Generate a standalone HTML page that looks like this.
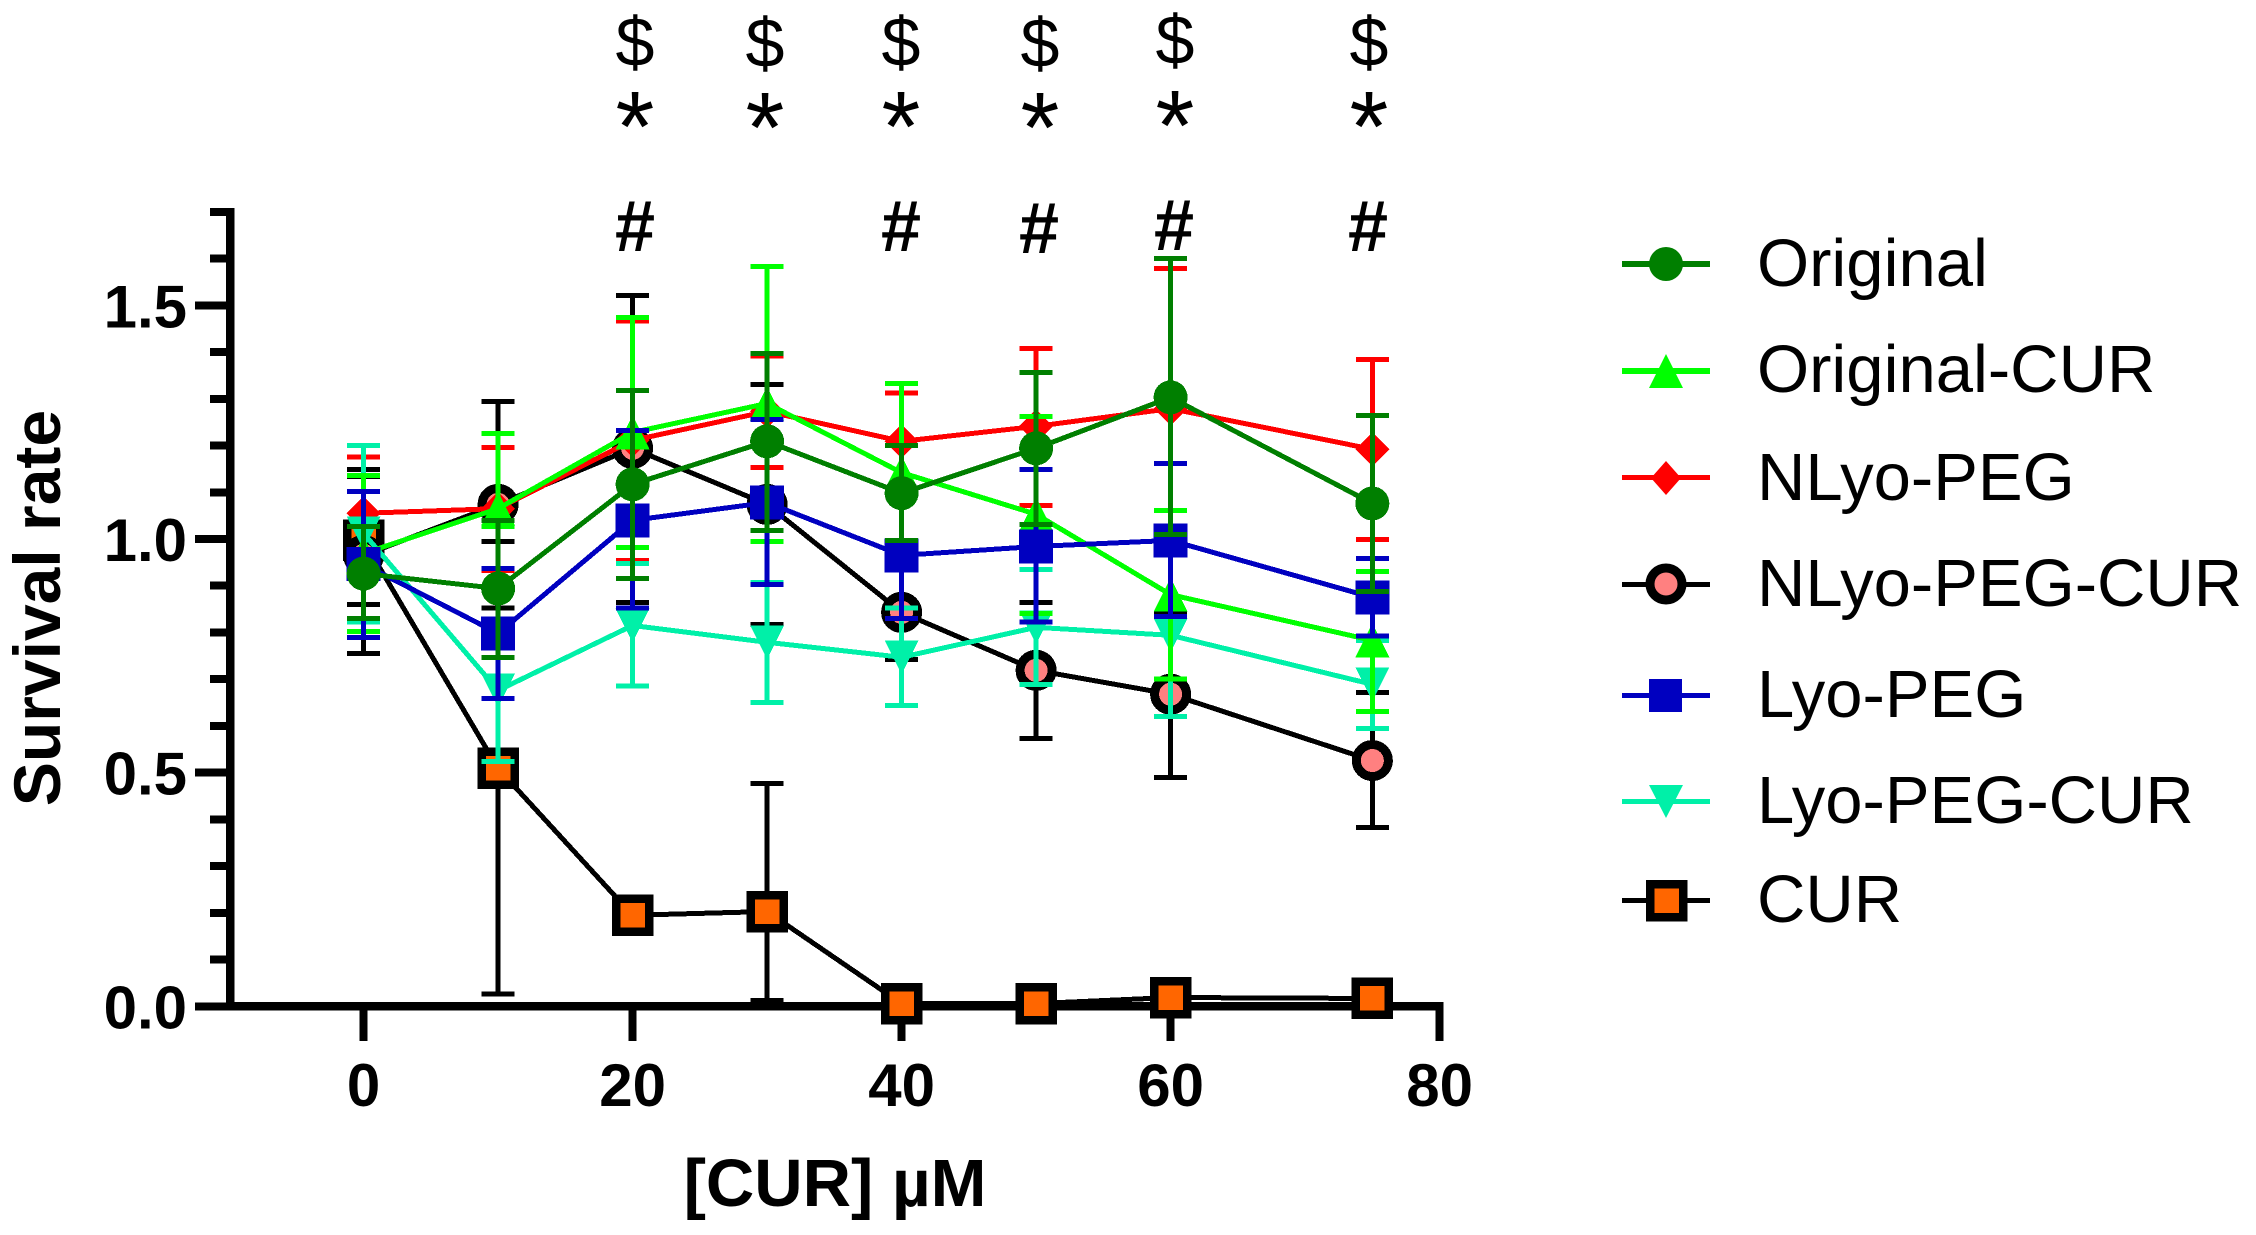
<!DOCTYPE html>
<html lang="en">
<head>
<meta charset="utf-8">
<title>Survival rate vs CUR concentration</title>
<style>
html,body{margin:0;padding:0;background:#fff;}
svg{display:block;}
text{font-family:"Liberation Sans",sans-serif;fill:#000;}
.tick{font-weight:700;font-size:60px;}
.title{font-weight:700;font-size:66px;}
.xtitle{font-weight:700;font-size:67px;}
.leg{font-size:67px;}
.dollar{font-size:70px;text-anchor:middle;}
.star{font-size:100px;text-anchor:middle;}
.hash{font-size:72px;font-weight:700;text-anchor:middle;}
</style>
</head>
<body>
<svg id="chart" xmlns="http://www.w3.org/2000/svg" width="2256" height="1235" viewBox="0 0 2256 1235">
  <g id="annotations">
    <text class="dollar" x="635" y="66">$</text>
    <text class="dollar" x="765" y="67">$</text>
    <text class="dollar" x="901" y="66">$</text>
    <text class="dollar" x="1040" y="67">$</text>
    <text class="dollar" x="1175" y="64">$</text>
    <text class="dollar" x="1369" y="66">$</text>
    <text class="star" x="635" y="161">*</text>
    <text class="star" x="765" y="162">*</text>
    <text class="star" x="901" y="161">*</text>
    <text class="star" x="1040" y="162">*</text>
    <text class="star" x="1175" y="160">*</text>
    <text class="star" x="1369" y="161">*</text>
    <text class="hash" x="635" y="251">#</text>
    <text class="hash" x="901" y="251">#</text>
    <text class="hash" x="1039" y="253">#</text>
    <text class="hash" x="1174" y="250">#</text>
    <text class="hash" x="1368" y="251">#</text>
  </g>
  <text class="title" transform="translate(60,608) rotate(-90)" text-anchor="middle">Survival rate</text>
  <text class="xtitle" x="835" y="1206" text-anchor="middle">[CUR] µM</text>
  <g id="axes" shape-rendering="crispEdges"></g>
  <g id="series" shape-rendering="crispEdges"></g>
  <g id="legend">
    <g>
      <rect x="1622" y="261" width="88" height="6" fill="#007f00" shape-rendering="crispEdges"/>
      <circle cx="1666" cy="264" r="17" fill="#007f00"/>
      <text class="leg" x="1757" y="286">Original</text>
    </g>
    <g>
      <rect x="1622" y="368" width="88" height="6" fill="#00ff00" shape-rendering="crispEdges"/>
      <polygon points="1666,354 1683,388 1649,388" fill="#00ff00"/>
      <text class="leg" x="1757" y="392">Original-CUR</text>
    </g>
    <g>
      <rect x="1622" y="475" width="88" height="5" fill="#ff0000" shape-rendering="crispEdges"/>
      <polygon points="1666,461 1681,478 1666,495 1651,478" fill="#ff0000"/>
      <text class="leg" x="1757" y="500">NLyo-PEG</text>
    </g>
    <g>
      <rect x="1622" y="582" width="88" height="5" fill="#000" shape-rendering="crispEdges"/>
      <circle cx="1666" cy="584" r="16" fill="#ff8080" stroke="#000" stroke-width="9"/>
      <text class="leg" x="1757" y="606">NLyo-PEG-CUR</text>
    </g>
    <g>
      <rect x="1622" y="693" width="88" height="5" fill="#0000c0" shape-rendering="crispEdges"/>
      <rect x="1649" y="679" width="33" height="33" fill="#0000c0" shape-rendering="crispEdges"/>
      <text class="leg" x="1757" y="717">Lyo-PEG</text>
    </g>
    <g>
      <rect x="1622" y="799" width="88" height="5" fill="#00f0a8" shape-rendering="crispEdges"/>
      <polygon points="1649,785 1683,785 1666,818" fill="#00f0a8"/>
      <text class="leg" x="1757" y="823">Lyo-PEG-CUR</text>
    </g>
    <g>
      <rect x="1622" y="898" width="88" height="5" fill="#000" shape-rendering="crispEdges"/>
      <rect x="1650" y="884" width="33" height="33" fill="#ff6600" stroke="#000" stroke-width="8.5" shape-rendering="crispEdges"/>
      <text class="leg" x="1757" y="922">CUR</text>
    </g>
  </g>
</svg>
<script>
// Chart data
const concentrations = [0, 10, 20, 30, 40, 50, 60, 75];
const xTickValues = [0, 20, 40, 60, 80];
const yMajorTicks = [0, 0.5, 1.0, 1.5];
const yMinorTicks = [0.1, 0.2, 0.3, 0.4, 0.6, 0.7, 0.8, 0.9, 1.1, 1.2, 1.3, 1.4, 1.6, 1.7];

const originalMean = [0.926, 0.894, 1.117, 1.209, 1.098, 1.194, 1.303, 1.076];
const originalUpper = [1.027, 1.040, 1.318, 1.397, 1.200, 1.356, 1.600, 1.264];
const originalLower = [0.830, 0.747, 0.916, 1.018, 0.997, 1.031, 1.010, 0.888];

const originalCurMean = [0.969, 1.065, 1.228, 1.290, 1.142, 1.053, 0.881, 0.783];
const originalCurUpper = [1.136, 1.226, 1.474, 1.583, 1.333, 1.262, 1.061, 0.931];
const originalCurLower = [0.802, 1.027, 0.982, 0.995, 0.952, 0.841, 0.700, 0.631];

const nlyoPegMean = [1.055, 1.065, 1.211, 1.273, 1.209, 1.241, 1.279, 1.192];
const nlyoPegUpper = [1.175, 1.196, 1.466, 1.391, 1.312, 1.408, 1.579, 1.384];
const nlyoPegLower = [0.935, 0.933, 0.954, 1.153, 1.106, 1.072, 0.980, 0.999];

const nlyoPegCurMean = [0.965, 1.074, 1.194, 1.074, 0.843, 0.719, 0.668, 0.526];
const nlyoPegCurUpper = [1.149, 1.294, 1.521, 1.331, 0.943, 0.864, 0.841, 0.672];
const nlyoPegCurLower = [0.755, 0.852, 0.864, 0.817, 0.742, 0.573, 0.490, 0.383];

const lyoPegMean = [0.946, 0.798, 1.040, 1.078, 0.965, 0.984, 0.997, 0.875];
const lyoPegUpper = [1.102, 0.937, 1.232, 1.256, 1.100, 1.149, 1.162, 0.958];
const lyoPegLower = [0.789, 0.659, 0.852, 0.903, 0.830, 0.822, 0.834, 0.792];

const lyoPegCurMean = [1.012, 0.676, 0.815, 0.779, 0.747, 0.811, 0.794, 0.689];
const lyoPegCurUpper = [1.200, 0.828, 0.948, 0.907, 0.852, 0.935, 0.967, 0.783];
const lyoPegCurLower = [0.822, 0.524, 0.685, 0.650, 0.644, 0.689, 0.620, 0.595];

const curMean = [0.997, 0.509, 0.195, 0.203, 0.006, 0.006, 0.019, 0.017];
const curUpper = [1.134, 0.995, 0.216, 0.477, 0.013, 0.013, 0.032, 0.030];
const curLower = [0.860, 0.026, 0.173, 0.013, 0.000, 0.000, 0.006, 0.004];

const NS = 'http://www.w3.org/2000/svg';
const xScale = v => 363.6 + 13.45 * v;
const yScale = v => 1006.4 - 467.4 * v;

function el(tag, attrs, parent) {
  const node = document.createElementNS(NS, tag);
  for (const k in attrs) node.setAttribute(k, attrs[k]);
  parent.appendChild(node);
  return node;
}

const axes = document.getElementById('axes');

const yAxisLine = el('line', {x1: 230, x2: 230, y1: yScale(1.7) - 4, y2: yScale(0) + 4, stroke: '#000', 'stroke-width': 8.5}, axes);



const xAxisLine = el('line', {x1: 226, x2: xScale(80) + 4, y1: yScale(0), y2: yScale(0), stroke: '#000', 'stroke-width': 8.5}, axes);



yMajorTicks.forEach(v => {
  const tick = el('line', {x1: 195, x2: 228, y1: yScale(v), y2: yScale(v), stroke: '#000', 'stroke-width': 8}, axes);
  
  
  const label = el('text', {x: 187, y: yScale(v) + 22, 'text-anchor': 'end', class: 'tick'}, axes);
  label.textContent = v.toFixed(1);
  
  
});

yMinorTicks.forEach(v => {
  const tick = el('line', {x1: 210, x2: 228, y1: yScale(v), y2: yScale(v), stroke: '#000', 'stroke-width': 8}, axes);
  
  
});

xTickValues.forEach(v => {
  const tick = el('line', {x1: xScale(v), x2: xScale(v), y1: yScale(0), y2: 1041, stroke: '#000', 'stroke-width': 8}, axes);
  
  
  const label = el('text', {x: xScale(v), y: 1106, 'text-anchor': 'middle', class: 'tick'}, axes);
  label.textContent = String(v);
  
  
});

function drawMarker(kind, cx, cy, color, parent) {
  if (kind === 'circle') return el('circle', {cx: cx, cy: cy, r: 17, fill: color}, parent);
  if (kind === 'triangle-up') return el('polygon', {points: [cx, cy - 17, cx + 17, cy + 17, cx - 17, cy + 17].join(' '), fill: color}, parent);
  if (kind === 'triangle-down') return el('polygon', {points: [cx - 17, cy - 17, cx + 17, cy - 17, cx, cy + 17].join(' '), fill: color}, parent);
  if (kind === 'diamond') return el('polygon', {points: [cx, cy - 17, cx + 17, cy, cx, cy + 17, cx - 17, cy].join(' '), fill: color}, parent);
  if (kind === 'square') return el('rect', {x: cx - 17, y: cy - 17, width: 34, height: 34, fill: color}, parent);
  if (kind === 'ring') return el('circle', {cx: cx, cy: cy, r: 16, fill: '#ff8080', stroke: '#000', 'stroke-width': 9}, parent);
  return el('rect', {x: cx - 16.5, y: cy - 16.5, width: 33, height: 33, fill: '#ff6600', stroke: '#000', 'stroke-width': 8.5}, parent);
}

function drawSeries(id, color, kind, mean, upper, lower) {
  const group = el('g', {}, document.getElementById('series'));
  
  

  const path = el('polyline', {
    points: concentrations.map((c, i) => xScale(c) + ',' + yScale(mean[i])).join(' '),
    fill: 'none', stroke: color, 'stroke-width': 5, 'stroke-linejoin': 'round'
  }, group);
  
  

  concentrations.forEach((c, i) => {
    const x = xScale(c);
    const stem = el('line', {x1: x, x2: x, y1: yScale(upper[i]), y2: yScale(lower[i]), stroke: color, 'stroke-width': 5}, group);
    
    
    const capTop = el('line', {x1: x - 16.5, x2: x + 16.5, y1: yScale(upper[i]), y2: yScale(upper[i]), stroke: color, 'stroke-width': 5}, group);
    
    
    const capBottom = el('line', {x1: x - 16.5, x2: x + 16.5, y1: yScale(lower[i]), y2: yScale(lower[i]), stroke: color, 'stroke-width': 5}, group);
    
    
  });

  concentrations.forEach((c, i) => {
    const marker = drawMarker(kind, xScale(c), yScale(mean[i]), color, group);
    
    
  });
}

drawSeries('series-cur', '#000000', 'boxed', curMean, curUpper, curLower);
drawSeries('series-nlyo-peg-cur', '#000000', 'ring', nlyoPegCurMean, nlyoPegCurUpper, nlyoPegCurLower);
drawSeries('series-nlyo-peg', '#ff0000', 'diamond', nlyoPegMean, nlyoPegUpper, nlyoPegLower);
drawSeries('series-lyo-peg-cur', '#00f0a8', 'triangle-down', lyoPegCurMean, lyoPegCurUpper, lyoPegCurLower);
drawSeries('series-original-cur', '#00ff00', 'triangle-up', originalCurMean, originalCurUpper, originalCurLower);
drawSeries('series-lyo-peg', '#0000c0', 'square', lyoPegMean, lyoPegUpper, lyoPegLower);
drawSeries('series-original', '#007f00', 'circle', originalMean, originalUpper, originalLower);
</script>
</body>
</html>
